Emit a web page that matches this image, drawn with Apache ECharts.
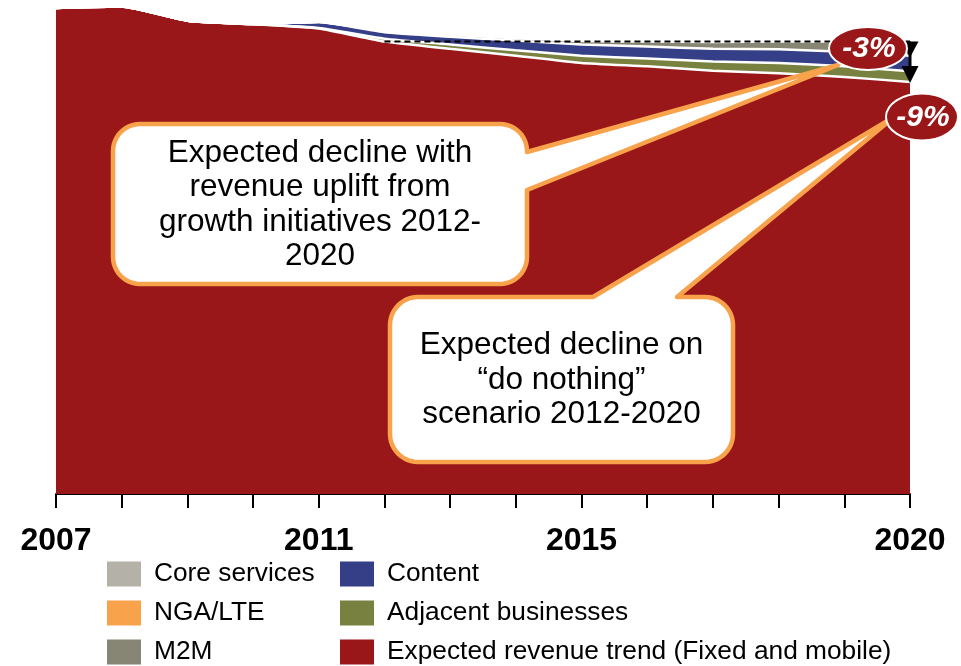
<!DOCTYPE html>
<html><head><meta charset="utf-8">
<script src="https://cdn.jsdelivr.net/npm/echarts@6/dist/echarts.min.js"></script>
<style>html,body{margin:0;padding:0;background:#fff}#c{width:961px;height:666px}</style>
</head><body><div id="c"></div>
<script>
// ---- data (revenue index, 2007 = 100) ----
const years = [2007,2008,2009,2010,2011,2012,2013,2014,2015,2016,2017,2018,2019,2020];
const tickLabels = ['2007','2011','2015','2020'];
const expectedTrend = [100.0,100.3,97.4,96.7,95.8,93.1,91.6,90.2,88.7,88.0,87.1,86.6,85.8,84.8];
const adjacentBusinesses = [0,0,0,0,0.1,0.6,0.9,1.1,1.5,1.6,1.9,2.1,2.2,2.2];
const contentRev = [0,0,0,0,1.2,1.3,1.6,2.0,2.3,2.5,2.6,2.8,3.0,3.2];
const m2mRev = [0,0,0,0,0,0.2,0.4,0.5,0.7,1.0,1.4,1.6,2.1,2.5];
const coreServices = [0,0,0,0,0.05,0.1,0.15,0.15,0.15,0.15,0.15,0.15,0.15,0.15];
const ngaLte = [0,0,0,0,0,0,0,0,0,0,0,0,0,0];
const upliftDecline = '-3%';
const nothingDecline = '-9%';
const callout1Lines = ['Expected decline with','revenue uplift from','growth initiatives 2012-','2020'];
const callout2Lines = ['Expected decline on','\u201Cdo nothing\u201D','scenario 2012-2020'];

const FONT = '"Liberation Sans", Arial, Helvetica, sans-serif';
const COL = {
  core:'#B3B1A8', nga:'#F8A24B', m2m:'#878573', content:'#353F88',
  adjacent:'#788140', trend:'#9A1719', orange:'#F8A24B'
};

const chart = echarts.init(document.getElementById('c'));
function mk(name, arr, color){
  return {
    name, type:'line', stack:'total', data: arr.slice(), showSymbol:false, symbol:'none',
    smooth:0.15, itemStyle:{color}, lineStyle:{color:'#fff', width:2.5},
    areaStyle:{color, opacity:1}, z:2
  };
}
const legendBase = {
  orient:'vertical', top:561, padding:0, itemWidth:34, itemHeight:25, itemGap:13, icon:'rect',
  selectedMode:false,
  textStyle:{fontSize:26.3, fontFamily:FONT, color:'#000', lineHeight:25, padding:[0,0,0,8]}
};
const li = (name,color)=>({name, itemStyle:{color, borderWidth:0}});

chart.setOption({
  animation:false,
  grid:{left:56, right:51, top:0, bottom:172},
  xAxis:{
    type:'category', data:years.map(String), boundaryGap:false,
    axisLine:{lineStyle:{color:'#000', width:2}},
    axisTick:{length:14, interval:0, lineStyle:{color:'#000', width:2}},
    splitLine:{show:false},
    axisLabel:{margin:31, fontSize:32, fontWeight:'bold', color:'#000', fontFamily:FONT, interval:0,
      formatter: v => tickLabels.indexOf(String(v))>=0 ? String(v) : ''}
  },
  yAxis:{type:'value', min:0, max:101.65, show:false},
  legend:[
    Object.assign({left:107, data:[li('Core services',COL.core), li('NGA/LTE',COL.nga), li('M2M',COL.m2m)]}, legendBase),
    Object.assign({left:340, data:[li('Content',COL.content), li('Adjacent businesses',COL.adjacent), li('Expected revenue trend (Fixed and mobile)',COL.trend)]}, legendBase)
  ],
  series:[
    mk('Expected revenue trend (Fixed and mobile)', expectedTrend, COL.trend),
    mk('Adjacent businesses', adjacentBusinesses, COL.adjacent),
    mk('Content', contentRev, COL.content),
    mk('M2M', m2mRev, COL.m2m),
    mk('Core services', coreServices, COL.core),
    mk('NGA/LTE', ngaLte, COL.nga)
  ]
});

// ---- annotations ----
const last = years.length-1;
const P = (yr,y)=>chart.convertToPixel({gridIndex:0},[yr-years[0],y]);
const i2012 = years.indexOf(2012);
const lvl2012 = expectedTrend[i2012];
const lvl2020 = expectedTrend[last];
const top2020 = expectedTrend[last]+adjacentBusinesses[last]+contentRev[last]+m2mRev[last]+coreServices[last]+ngaLte[last];

function dashed(a,b){
  return {type:'line', shape:{x1:a[0],y1:a[1],x2:b[0],y2:b[1]}, z:50,
    style:{stroke:'#000', lineWidth:2, lineDash:[6,4]}};
}
function callout(x1,y1,x2,y2,r,tail){
  const pts=[];
  const arc=(cx,cy,a0,a1)=>{for(let i=0;i<=12;i++){const t=a0+(a1-a0)*i/12;pts.push([cx+r*Math.cos(t),cy+r*Math.sin(t)]);}};
  arc(x1+r,y1+r,Math.PI,1.5*Math.PI);
  if(tail.edge==='top'){pts.push([tail.a,y1],tail.tip,[tail.b,y1]);}
  arc(x2-r,y1+r,1.5*Math.PI,2*Math.PI);
  if(tail.edge==='right'){pts.push([x2,tail.a],tail.tip,[x2,tail.b]);}
  arc(x2-r,y2-r,0,0.5*Math.PI);
  arc(x1+r,y2-r,0.5*Math.PI,Math.PI);
  return pts;
}
function text(x,y,lines,opt){
  return {type:'text', x, y, z:120, style:Object.assign({
    text:lines.join('\n'), fill:'#000', fontSize:31.5, fontFamily:FONT,
    align:'center', verticalAlign:'middle', lineHeight:34.5}, opt||{})};
}
const pTopL = P(2012,lvl2012), pTopR = P(2020.35,lvl2012);
const pBotL = P(2020,lvl2020), pBotR = P(2020.35,lvl2020);
const pMidL = P(2020,top2020), pMidR = P(2020.35,top2020);
const ax = P(2020.26,lvl2012)[0];
const yT = pTopL[1], yB = pBotL[1];

const graphics = [
  dashed(pTopL,pTopR), dashed(pBotL,pBotR), dashed(pMidL,pMidR),
  dashed([pMidL[0],yT],[pMidL[0],pMidL[1]]),
  {type:'polygon', z:60, shape:{points:[[ax-8.5,yT],[ax+8.5,yT],[ax,yT+16]]}, style:{fill:'#000'}},
  {type:'line', z:60, shape:{x1:ax,y1:yT+8,x2:ax,y2:yB-14}, style:{stroke:'#000',lineWidth:3}},
  {type:'polygon', z:60, shape:{points:[[ax-8.5,yB-16],[ax+8.5,yB-16],[ax,yB+1]]}, style:{fill:'#000'}},
  {type:'polygon', z:100, shape:{points:callout(113,124,527,284,27,{edge:'right',a:152,b:190,tip:[838,65]})},
    style:{fill:'#fff', stroke:COL.orange, lineWidth:4.5, lineJoin:'round'}},
  {type:'polygon', z:100, shape:{points:callout(390,297,733,462,28,{edge:'top',a:593,b:677,tip:[894,117]})},
    style:{fill:'#fff', stroke:COL.orange, lineWidth:4.5, lineJoin:'round'}},
  text(320,205,callout1Lines),
  text(561.5,380,callout2Lines),
  {type:'ellipse', z:110, shape:{cx:868,cy:48.5,rx:39,ry:21.5}, style:{fill:COL.trend, stroke:'#fff', lineWidth:2}},
  {type:'ellipse', z:110, shape:{cx:922,cy:117,rx:36,ry:23.5}, style:{fill:COL.trend, stroke:'#fff', lineWidth:2}},
  text(869,49,[upliftDecline],{fill:'#fff', fontWeight:'bold', fontStyle:'italic', fontSize:30}),
  text(923,118,[nothingDecline],{fill:'#fff', fontWeight:'bold', fontStyle:'italic', fontSize:30})
];
chart.setOption({graphic:{elements:graphics}});
</script></body></html>
